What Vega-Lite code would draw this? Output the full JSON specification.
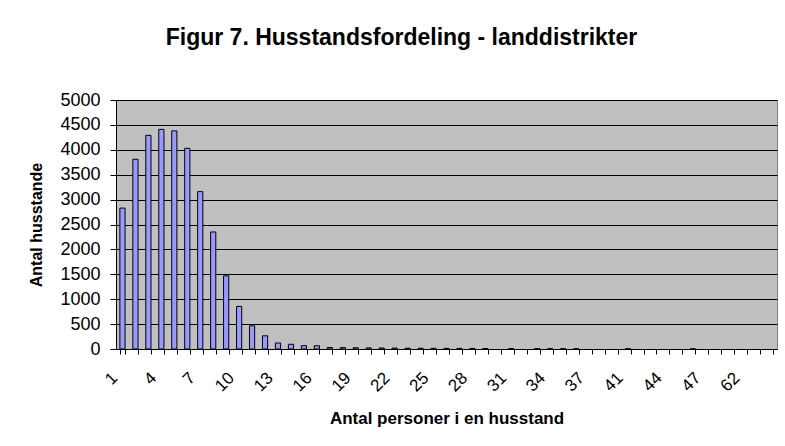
{
  "$schema": "https://vega.github.io/schema/vega-lite/v6.json",
  "autosize": "none",
  "width": 661,
  "height": 249,
  "padding": {"left": 116, "top": 100, "right": 8, "bottom": 97},
  "background": "white",
  "title": {
    "text": "Figur 7. Husstandsfordeling - landdistrikter",
    "font": "Liberation Sans",
    "fontSize": 23,
    "fontWeight": "bold",
    "color": "black",
    "anchor": "middle",
    "dx": -45,
    "offset": 41
  },
  "data": {
    "values": [
      {"personer": "1", "husstande": 2830},
      {"personer": "2", "husstande": 3810},
      {"personer": "3", "husstande": 4290},
      {"personer": "4", "husstande": 4410},
      {"personer": "5", "husstande": 4380},
      {"personer": "6", "husstande": 4030},
      {"personer": "7", "husstande": 3160},
      {"personer": "8", "husstande": 2350},
      {"personer": "9", "husstande": 1470},
      {"personer": "10", "husstande": 855},
      {"personer": "11", "husstande": 466},
      {"personer": "12", "husstande": 265},
      {"personer": "13", "husstande": 120},
      {"personer": "14", "husstande": 95},
      {"personer": "15", "husstande": 67},
      {"personer": "16", "husstande": 65},
      {"personer": "17", "husstande": 30},
      {"personer": "18", "husstande": 28},
      {"personer": "19", "husstande": 25},
      {"personer": "20", "husstande": 22},
      {"personer": "21", "husstande": 20},
      {"personer": "22", "husstande": 18},
      {"personer": "23", "husstande": 16},
      {"personer": "24", "husstande": 15},
      {"personer": "25", "husstande": 14},
      {"personer": "26", "husstande": 13},
      {"personer": "27", "husstande": 12},
      {"personer": "28", "husstande": 11},
      {"personer": "29", "husstande": 10},
      {"personer": "31", "husstande": 8},
      {"personer": "33", "husstande": 7},
      {"personer": "34", "husstande": 6},
      {"personer": "35", "husstande": 6},
      {"personer": "36", "husstande": 5},
      {"personer": "41", "husstande": 5},
      {"personer": "46", "husstande": 4}
    ]
  },
  "mark": {"type": "bar", "fill": "#9999FF", "stroke": "black", "strokeWidth": 1},
  "encoding": {
    "x": {
      "field": "personer",
      "type": "nominal",
      "scale": {
        "domain": ["1","2","3","4","5","6","7","8","9","10","11","12","13","14","15","16","17","18","19","20","21","22","23","24","25","26","27","28","29","30","31","32","33","34","35","36","37","38","40","41","42","43","44","45","46","47","50","55","62","65","70"],
        "paddingInner": 0.6,
        "paddingOuter": 0.3
      },
      "axis": {
        "title": "Antal personer i en husstand",
        "titleFont": "Liberation Sans",
        "titleFontSize": 17,
        "titleFontWeight": "bold",
        "titleColor": "black",
        "titlePadding": 16,
        "labelFont": "Liberation Sans",
        "labelFontSize": 17,
        "labelColor": "black",
        "labelAngle": -45,
        "labelAlign": "right",
        "labelBaseline": "middle",
        "labelPadding": 21,
        "labelOffset": -8,
        "labelOverlap": false,
        "labelExpr": "indexof(['1','4','7','10','13','16','19','22','25','28','31','34','37','41','44','47','62'], datum.label) >= 0 ? datum.label : ''",
        "tickBand": "extent",
        "tickSize": 5,
        "tickColor": "black",
        "domainColor": "black",
        "grid": false
      }
    },
    "y": {
      "field": "husstande",
      "type": "quantitative",
      "scale": {"domain": [0, 5000], "nice": false},
      "axis": {
        "title": "Antal husstande",
        "titleFont": "Liberation Sans",
        "titleFontSize": 16,
        "titleFontWeight": "bold",
        "titleColor": "black",
        "titlePadding": 15,
        "values": [0,500,1000,1500,2000,2500,3000,3500,4000,4500,5000],
        "format": "d",
        "labelFont": "Liberation Sans",
        "labelFontSize": 18,
        "labelColor": "black",
        "labelPadding": 10,
        "tickSize": 6,
        "tickColor": "black",
        "domainColor": "black",
        "grid": true,
        "gridColor": "black",
        "gridOpacity": 1,
        "gridWidth": 1
      }
    }
  },
  "config": {
    "view": {"fill": "#C0C0C0", "stroke": "#808080", "strokeWidth": 1},
    "axis": {"domainWidth": 1, "tickWidth": 1}
  }
}
